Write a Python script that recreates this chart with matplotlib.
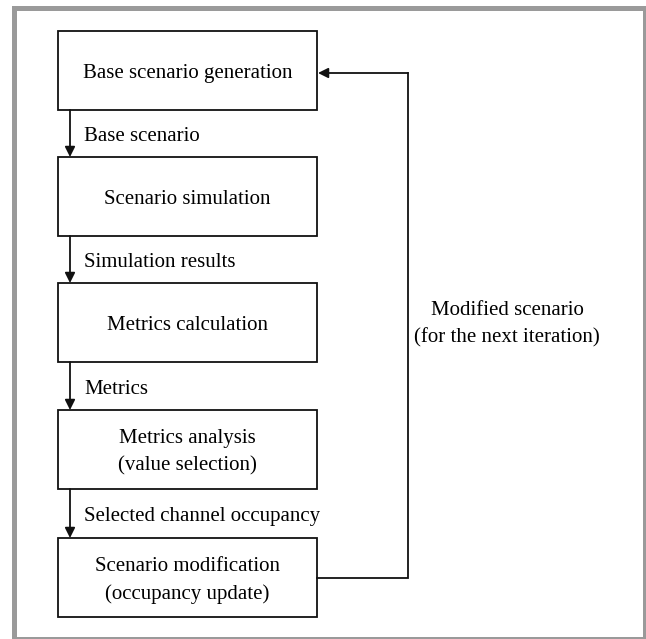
import matplotlib
matplotlib.use('Agg')
import matplotlib.pyplot as plt
from matplotlib.patches import Rectangle

plt.rcParams['font.family'] = ['Liberation Serif', 'DejaVu Serif']

box_labels = [
    "Base scenario generation",
    "Scenario simulation",
    "Metrics calculation",
    "Metrics analysis\n(value selection)",
    "Scenario modification\n(occupancy update)",
]
arrow_labels = [
    "Base scenario",
    "Simulation results",
    "Metrics",
    "Selected channel occupancy",
]
feedback_label = "Modified scenario\n(for the next iteration)"

# layout in pixel coords (y down)
box_left, box_right = 58, 317
box_tops = [31, 157, 283, 410, 538]
box_h = 79
arrow_x = 70
loop_x = 408
loop_in_y = 73
loop_out_y = 578
text_dy = 3  # glyphs sit a touch low in the original

fig = plt.figure(figsize=(6.46, 6.39), dpi=100)
ax = fig.add_axes([0, 0, 1, 1])
ax.set_xlim(0, 646)
ax.set_ylim(639, 0)
ax.axis('off')

# outer gray frame
ax.add_patch(Rectangle((13.5, 7.5), 631, 631, fill=False, edgecolor='#9a9a9a',
                       linewidth=3.6, joinstyle='miter'))

fs = 15
for top, label in zip(box_tops, box_labels):
    ax.add_patch(Rectangle((box_left, top), box_right - box_left, box_h,
                           fill=False, edgecolor='#111111', linewidth=1.3))
    ax.text((box_left + box_right) / 2, top + box_h / 2 + text_dy, label,
            ha='center', va='center', fontsize=fs, linespacing=1.55)

for i, label in enumerate(arrow_labels):
    y0 = box_tops[i] + box_h
    y1 = box_tops[i + 1]
    ax.annotate('', xy=(arrow_x, y1), xytext=(arrow_x, y0),
                arrowprops=dict(arrowstyle='-|>', color='#111111', lw=1.3,
                                mutation_scale=15, shrinkA=0, shrinkB=0))
    ax.text(arrow_x + 14, (y0 + y1) / 2 + text_dy, label, ha='left', va='center', fontsize=fs)

# feedback loop
ax.plot([box_right, loop_x, loop_x], [loop_out_y, loop_out_y, loop_in_y],
        color='#111111', lw=1.3, solid_joinstyle='miter')
ax.annotate('', xy=(box_right + 1, loop_in_y), xytext=(loop_x, loop_in_y),
            arrowprops=dict(arrowstyle='-|>', color='#111111', lw=1.3,
                            mutation_scale=15, shrinkA=0, shrinkB=0))
ax.text(507, 321 + text_dy, feedback_label, ha='center', va='center', fontsize=fs, linespacing=1.55)

fig.savefig('out.png', dpi=100)
plt.close(fig)
